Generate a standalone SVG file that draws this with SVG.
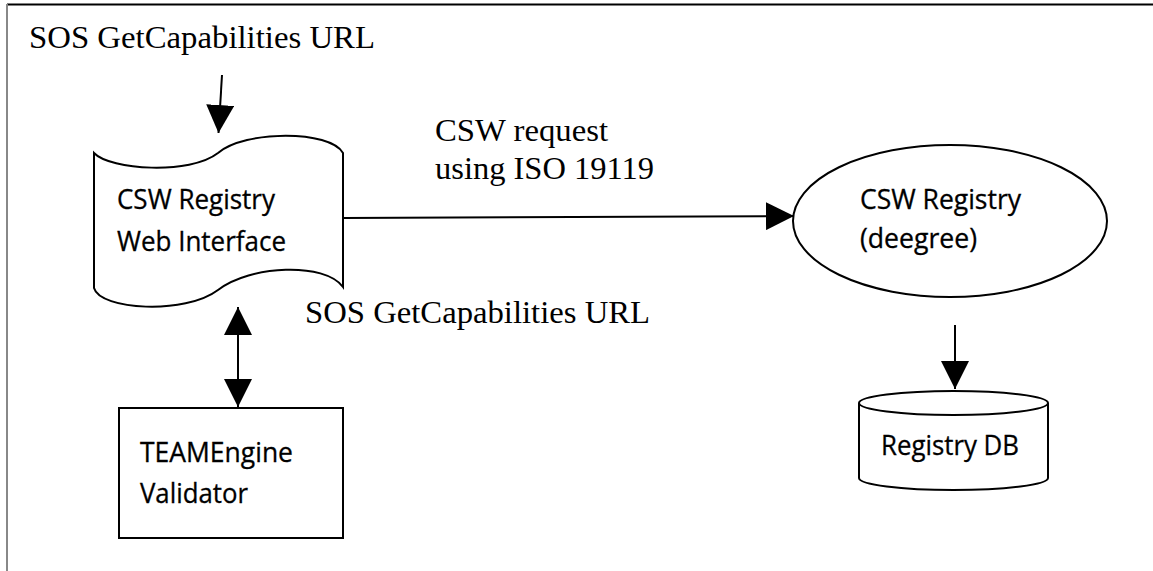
<svg xmlns="http://www.w3.org/2000/svg" width="1153" height="571" viewBox="0 0 1153 571">
  <style>
    .shape { fill: #ffffff; stroke: #000000; stroke-width: 2; }
    .edge { fill: none; stroke: #000000; stroke-width: 2; }
    .serif { font-family: "Liberation Serif", "Times New Roman", serif; font-size: 32px; fill: #000000; }
    .sans { font-family: "Open Sans", "Liberation Sans", sans-serif; font-size: 27px; fill: #000000; stroke: #000000; stroke-width: 0.3; }
  </style>
  <defs>
    <marker id="arrow" markerUnits="userSpaceOnUse" markerWidth="28" markerHeight="28" viewBox="0 0 28 28" refX="28" refY="14" orient="auto-start-reverse">
      <path d="M0,0 L28,14 L0,28 Z" fill="#000000"/>
    </marker>
  </defs>
  <rect x="0" y="0" width="1153" height="571" fill="#ffffff"/>
  <g id="frame">
    <line x1="7" y1="4.5" x2="1153" y2="4.5" stroke="#000000" stroke-width="2"/>
    <line x1="7" y1="4" x2="7" y2="571" stroke="#888888" stroke-width="2"/>
  </g>
  <g id="labels">
    <text class="serif" x="29" y="48" textLength="346" lengthAdjust="spacingAndGlyphs">SOS GetCapabilities URL</text>
    <text class="serif" x="435" y="141" textLength="173" lengthAdjust="spacingAndGlyphs">CSW request</text>
    <text class="serif" x="435" y="179" textLength="219" lengthAdjust="spacingAndGlyphs">using ISO 19119</text>
    <text class="serif" x="305" y="323" textLength="345" lengthAdjust="spacingAndGlyphs">SOS GetCapabilities URL</text>
  </g>
  <g id="connectors">
    <line class="edge" x1="222" y1="75" x2="218.5" y2="133" marker-end="url(#arrow)"/>
    <line class="edge" x1="343" y1="218" x2="794" y2="216" marker-end="url(#arrow)"/>
    <line class="edge" x1="238" y1="307" x2="238" y2="407" marker-start="url(#arrow)" marker-end="url(#arrow)"/>
    <line class="edge" x1="955" y1="325" x2="955" y2="389" marker-end="url(#arrow)"/>
  </g>
  <g id="web-interface">
    <path class="shape" d="M94,153 C110,170 190,175 218,153 C245,130 330,130 343,153 L343,287 C325,262 250,265 218,290 C185,315 100,310 94,288 Z"/>
    <text class="sans" x="117" y="209" textLength="158" lengthAdjust="spacingAndGlyphs">CSW Registry</text>
    <text class="sans" x="117" y="251" textLength="169" lengthAdjust="spacingAndGlyphs">Web Interface</text>
  </g>
  <g id="csw-registry">
    <ellipse class="shape" cx="950" cy="221" rx="157" ry="76"/>
    <text class="sans" x="860" y="209" textLength="161" lengthAdjust="spacingAndGlyphs">CSW Registry</text>
    <text class="sans" x="860" y="248" textLength="117" lengthAdjust="spacingAndGlyphs">(deegree)</text>
  </g>
  <g id="registry-db">
    <path class="shape" d="M859,403 L859,478 A94.5,12 0 0,0 1048,478 L1048,403"/>
    <ellipse class="shape" cx="953.5" cy="403" rx="94.5" ry="12"/>
    <text class="sans" x="881" y="455" textLength="138" lengthAdjust="spacingAndGlyphs">Registry DB</text>
  </g>
  <g id="teamengine">
    <rect class="shape" x="119" y="408" width="224" height="130"/>
    <text class="sans" x="140" y="462" textLength="153" lengthAdjust="spacingAndGlyphs">TEAMEngine</text>
    <text class="sans" x="140" y="503" textLength="108" lengthAdjust="spacingAndGlyphs">Validator</text>
  </g>
</svg>
